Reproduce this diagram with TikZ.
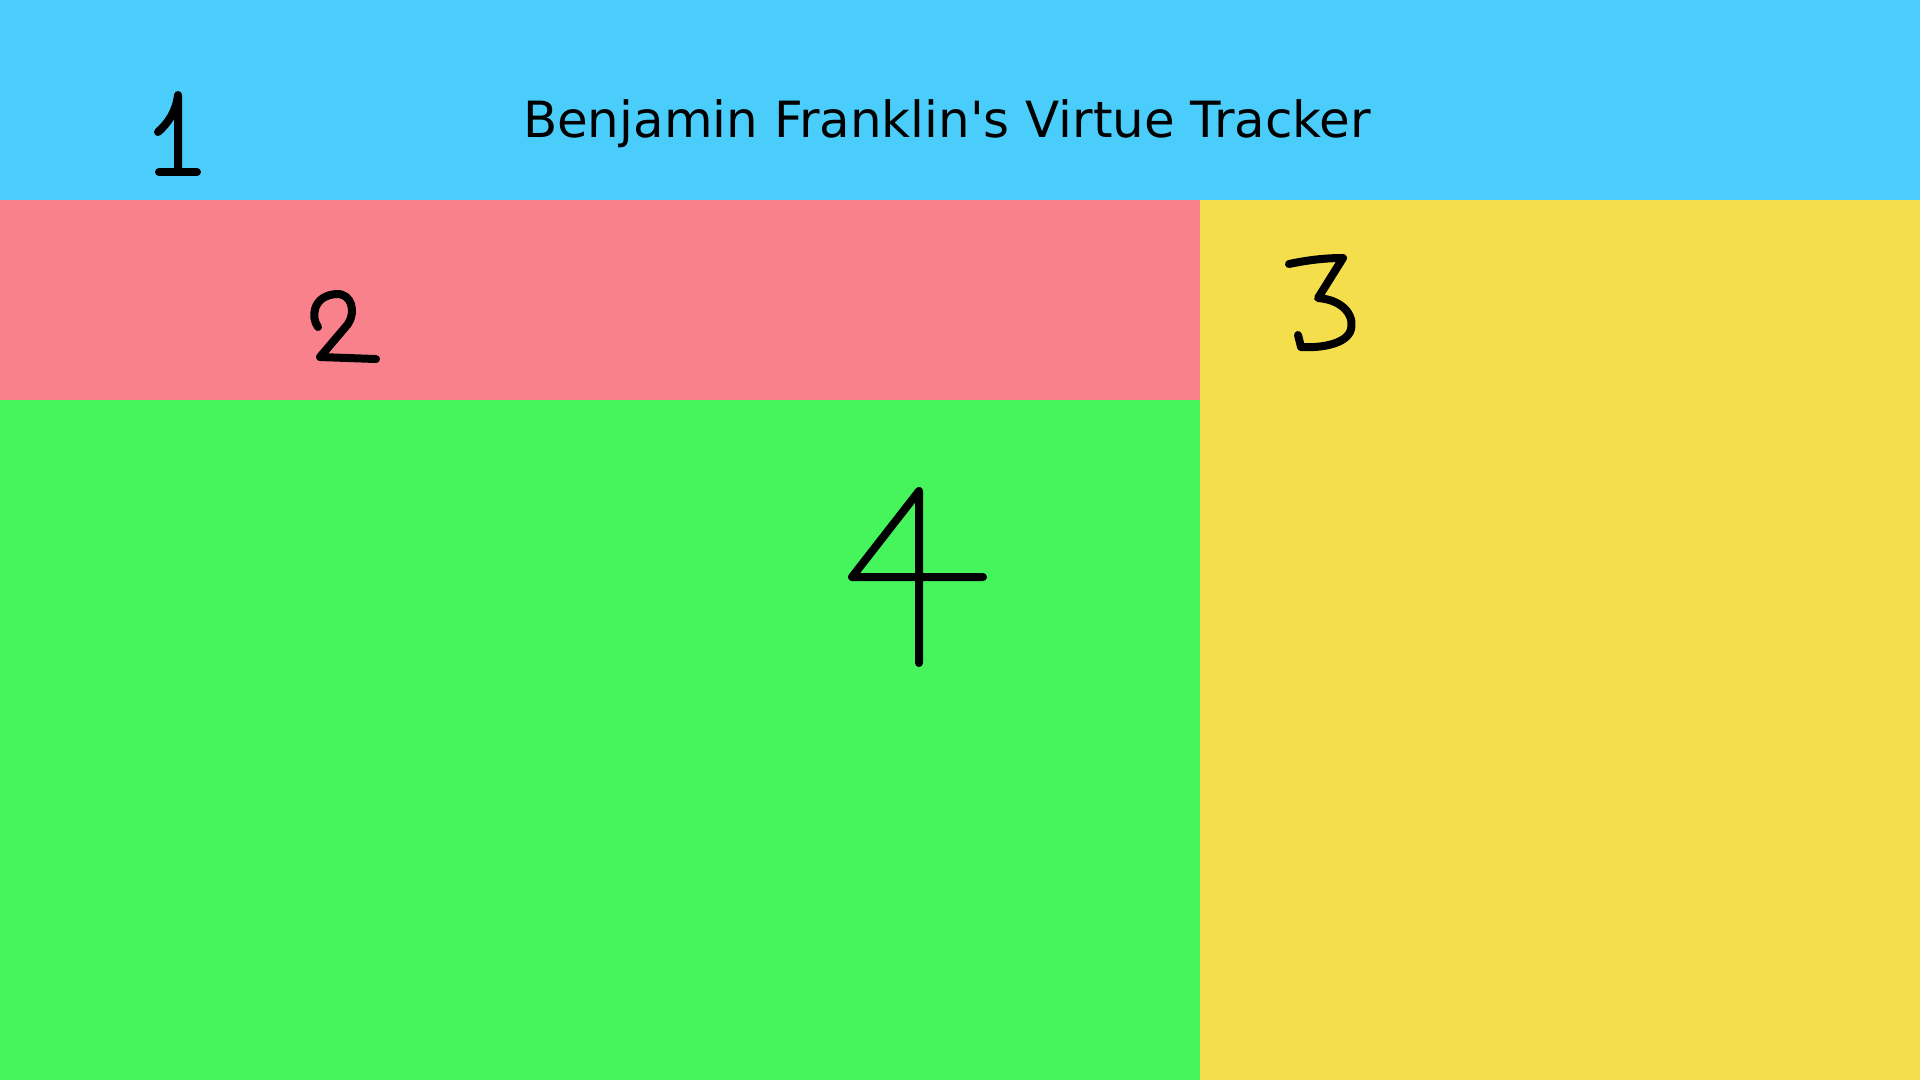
\documentclass[tikz,border=0pt]{standalone}
\usepackage{fontspec}
\setmainfont{DejaVu Sans}
\definecolor{topblue}{RGB}{74,205,250}
\definecolor{notepink}{RGB}{248,129,139}
\definecolor{noteyellow}{RGB}{244,222,76}
\definecolor{notegreen}{RGB}{70,245,91}
\begin{document}
\begin{tikzpicture}[x=0.1mm, y=-0.1mm, line cap=round, line join=round,
    pen/.style={black, line width=0.8mm},
    every node/.style={inner sep=0pt}]
	% 四个色块 (以像素为单位, y 轴向下)
	\useasboundingbox (0,0) rectangle (1920,1080);
	\fill[topblue] (0,0) rectangle (1920,200);
	\fill[notepink] (0,200) rectangle (1200,400);
	\fill[noteyellow] (1200,200) rectangle (1920,1080);
	\fill[notegreen] (0,400) rectangle (1200,1080);
	
	% 标题
	\node[anchor=base] (title) at (947,137) {\fontsize{14.2pt}{17pt}\selectfont Benjamin Franklin\textquotesingle s Virtue Tracker};
	
	% 手写编号 1-4
	\draw[pen] (158,132) .. controls (168,123) and (176,112) .. (178,95) -- (178,168);
	\draw[pen] (159,172) -- (197,172);
	\draw[pen] (318,327) .. controls (311,318) and (312,296) .. (336,294) .. controls (352,293) and (356,312) .. (348,324) -- (320,357) -- (376,359);
	\draw[pen] (1289,264) .. controls (1308,260) and (1325,258) .. (1343,258) -- (1318,298) .. controls (1345,300) and (1356,318) .. (1350,332) .. controls (1343,346) and (1315,348) .. (1301,347) -- (1298,335);
	\draw[pen] (919,663) -- (919,491) -- (852,577) -- (983,577);
\end{tikzpicture}
\end{document}
